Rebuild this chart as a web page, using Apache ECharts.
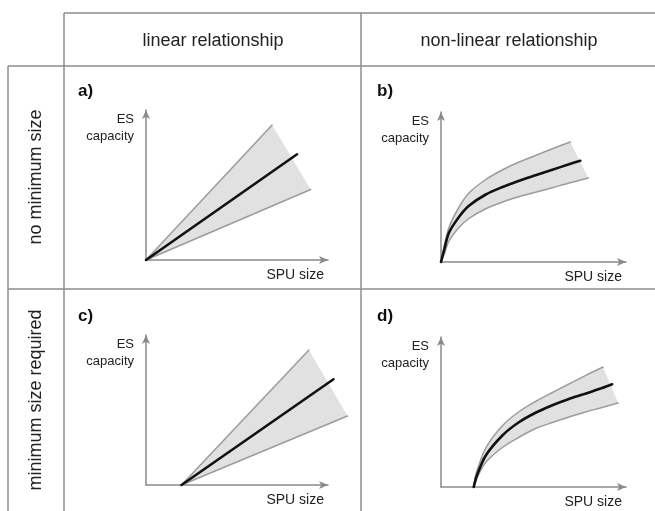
<!DOCTYPE html>
<html>
<head>
<meta charset="utf-8">
<script src="https://cdn.jsdelivr.net/npm/echarts@6/dist/echarts.min.js"></script>
<style>
html,body{margin:0;padding:0;background:#fff;}
#chart{width:655px;height:511px;}
</style>
</head>
<body>
<div id="chart"></div>
<script>
// ---- text ----
const colHeaders = ['linear relationship', 'non-linear relationship'];
const rowHeaders = ['no minimum size', 'minimum size required'];
const panelLetters = ['a)', 'b)', 'c)', 'd)'];
const yAxisTitle = 'ES\ncapacity';
const xAxisTitle = 'SPU size';

// ---- data (conceptual curves, axis units 0..10) ----
// a) linear, no minimum size
const aUpper = [[0, 0], [6.93, 9.0]];
const aMid   = [[0, 0], [8.3, 7.05]];
const aLower = [[0, 0], [9.05, 4.7]];
// b) non-linear, no minimum size
const bUpper = [[0,0],[0.12,0.8],[0.43,2.3],[0.97,3.65],[1.51,4.6],[2.42,5.5],[3.33,6.15],[4.19,6.65],[5.11,7.1],[6.02,7.55],[6.99,8.0]];
const bMid   = [[0,0],[0.15,0.7],[0.43,1.95],[0.97,3.0],[1.51,3.75],[2.42,4.5],[3.33,5.0],[4.19,5.4],[5.11,5.78],[6.02,6.15],[6.88,6.5],[7.53,6.75]];
const bLower = [[0,0],[0.2,0.6],[0.43,1.4],[0.97,2.3],[1.51,2.9],[2.42,3.55],[3.33,4.0],[4.19,4.35],[5.11,4.65],[6.02,4.95],[6.88,5.25],[7.96,5.6]];
// c) linear, minimum size required
const cUpper = [[1.95, 0], [8.95, 9.0]];
const cMid   = [[1.95, 0], [10.3, 7.05]];
const cLower = [[1.95, 0], [11.07, 4.6]];
// d) non-linear, minimum size required
const dUpper = [[1.77,0],[1.9,0.9],[2.42,2.6],[3.33,4.1],[4.19,5.0],[5.11,5.7],[6.02,6.3],[6.88,6.85],[7.8,7.43],[8.76,8.0]];
const dMid   = [[1.77,0],[1.95,0.8],[2.42,2.1],[3.33,3.45],[4.19,4.3],[5.11,4.95],[6.02,5.45],[6.88,5.85],[7.8,6.22],[8.71,6.6],[9.25,6.85]];
const dLower = [[1.77,0],[2.0,0.75],[2.42,1.65],[3.33,2.65],[4.19,3.3],[5.11,3.9],[6.02,4.3],[6.88,4.65],[7.8,5.0],[8.71,5.3],[9.57,5.6]];

// ---- layout ----
const panels = [
  { grid: {left: 146, top: 110, width: 182, height: 150}, letter: [78, 91],  upper: aUpper, mid: aMid, lower: aLower, smooth: 0 },
  { grid: {left: 441, top: 112, width: 185, height: 150}, letter: [377, 91], upper: bUpper, mid: bMid, lower: bLower, smooth: 0.3 },
  { grid: {left: 146, top: 335, width: 182, height: 150}, letter: [78, 316], upper: cUpper, mid: cMid, lower: cLower, smooth: 0 },
  { grid: {left: 441, top: 337, width: 185, height: 150}, letter: [377, 316], upper: dUpper, mid: dMid, lower: dLower, smooth: 0.3 }
];

const FONT = '"Liberation Sans", Arial, Helvetica, sans-serif';
const LINE = '#8a8a8a';
const grids = [], xAxes = [], yAxes = [], series = [], graphics = [];

panels.forEach((p, i) => {
  grids.push(Object.assign({}, p.grid));
  const axisCommon = {
    gridIndex: i, type: 'value', min: 0, max: 10,
    axisLine: { show: true, onZero: false, symbol: ['none', 'arrow'], symbolSize: [6, 9], lineStyle: { color: LINE, width: 1.5 } },
    axisTick: { show: false }, axisLabel: { show: false }, splitLine: { show: false }
  };
  xAxes.push(Object.assign({}, axisCommon));
  yAxes.push(Object.assign({}, axisCommon));

  const band = p.upper.concat(p.lower.slice().reverse());
  series.push({
    type: 'custom', xAxisIndex: i, yAxisIndex: i, z: 1, silent: true, clip: false,
    data: band,
    renderItem: function (params, api) {
      if (params.dataIndex !== 0) return null;
      const pts = band.map(pt => api.coord(pt));
      return { type: 'polygon', shape: { points: pts }, style: { fill: '#e1e1e1', stroke: null } };
    }
  });
  [['upper', '#9c9c9c', 1.5, 2], ['lower', '#9c9c9c', 1.5, 2], ['mid', '#111111', 2.6, 3]].forEach(([k, col, w, z]) => {
    const pts = p[k];
    series.push({
      type: 'custom', xAxisIndex: i, yAxisIndex: i, z: z, silent: true, clip: false,
      data: pts,
      renderItem: function (params, api) {
        if (params.dataIndex !== 0) return null;
        const c = pts.map(pt => api.coord(pt));
        return { type: 'polyline', shape: { points: c, smooth: p.smooth }, style: { stroke: col, lineWidth: w, fill: null, lineCap: 'round', lineJoin: 'round' } };
      }
    });
  });

  graphics.push({ type: 'text', x: p.letter[0], y: p.letter[1], style: { text: panelLetters[i], font: 'bold 17px ' + FONT, fill: '#111', verticalAlign: 'middle' } });
  graphics.push({ type: 'text', x: p.grid.left - 12, y: p.grid.top + 1, style: { text: yAxisTitle, font: '13px ' + FONT, fill: '#222', align: 'right', lineHeight: 17 } });
  graphics.push({ type: 'text', x: p.grid.left + p.grid.width - 4, y: p.grid.top + p.grid.height + 15, style: { text: xAxisTitle, font: '14px ' + FONT, fill: '#222', align: 'right', verticalAlign: 'middle' } });
});

// table lines
const TL = '#8c8c8c';
[[64, 13, 655, 13], [8, 66, 655, 66], [8, 289, 655, 289], [64, 13, 64, 511], [361, 13, 361, 511], [8, 66, 8, 511]].forEach(s => {
  graphics.push({ type: 'line', shape: { x1: s[0], y1: s[1], x2: s[2], y2: s[3] }, style: { stroke: TL, lineWidth: 1.5 } });
});
// headers
const HF = '18px ' + FONT;
graphics.push({ type: 'text', x: 213, y: 41, style: { text: colHeaders[0], font: HF, fill: '#222', align: 'center', verticalAlign: 'middle' } });
graphics.push({ type: 'text', x: 509, y: 41, style: { text: colHeaders[1], font: HF, fill: '#222', align: 'center', verticalAlign: 'middle' } });
graphics.push({ type: 'text', x: 36, y: 177, rotation: Math.PI / 2, style: { text: rowHeaders[0], font: HF, fill: '#222', align: 'center', verticalAlign: 'middle' } });
graphics.push({ type: 'text', x: 36, y: 400, rotation: Math.PI / 2, style: { text: rowHeaders[1], font: HF, fill: '#222', align: 'center', verticalAlign: 'middle' } });

const chart = echarts.init(document.getElementById('chart'), null, { renderer: 'canvas' });
chart.setOption({
  backgroundColor: '#ffffff',
  animation: false,
  grid: grids, xAxis: xAxes, yAxis: yAxes, series: series,
  graphic: graphics
});
</script>
</body>
</html>
